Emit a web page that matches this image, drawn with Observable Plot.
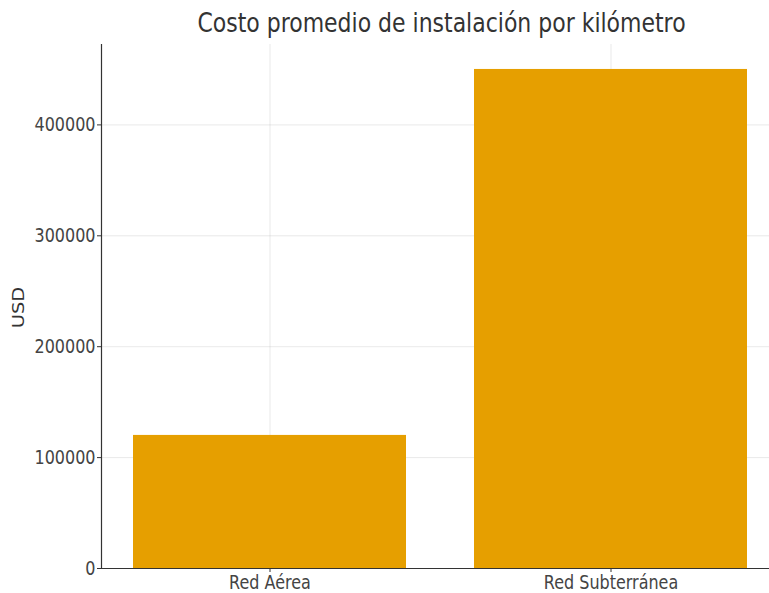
<!DOCTYPE html>
<html>
<head>
<meta charset="utf-8">
<script src="https://cdn.jsdelivr.net/npm/d3@7"></script>
<script src="https://cdn.jsdelivr.net/npm/@observablehq/plot@0.6"></script>
<style>
  html, body { margin: 0; padding: 0; background: white; }
  #chart svg { display: block; }
</style>
</head>
<body>
<div id="chart"></div>
<script>
const title = "Costo promedio de instalación por kilómetro";
const yLabel = "USD";
const categories = ["Red Aérea", "Red Subterránea"];
const values = [120000, 450000];
const yTicks = [0, 100000, 200000, 300000, 400000];

const data = categories.map((c, i) => ({cat: c, val: values[i]}));

const chart = Plot.plot({
  width: 769,
  height: 593,
  marginLeft: 101,
  marginRight: 0,
  marginTop: 44,
  marginBottom: 25,
  style: {fontFamily: "DejaVu Sans", fontSize: "16px", color: "#333", background: "white"},
  x: {type: "band", domain: categories, range: [101, 778], paddingInner: 0.2, paddingOuter: 0.09, align: 0.5},
  y: {domain: [0, 472500]},
  marks: [
    Plot.gridY(yTicks, {stroke: "#b0b0b0", strokeOpacity: 0.35, strokeWidth: 0.8}),
    Plot.gridX(categories, {stroke: "#b0b0b0", strokeOpacity: 0.35, strokeWidth: 0.8}),
    Plot.barY(data, {x: "cat", y: "val", fill: "#e69f00"}),
    Plot.axisY(yTicks, {tickSize: 4, tickPadding: 2, tickFormat: d => String(d), label: null, fontSize: 16, fill: "#444", stroke: "#333"}),
    Plot.axisX({tickSize: 4, tickPadding: 3, label: null, fontSize: 16, fill: "#444", stroke: "#333"}),
    Plot.ruleY([0], {stroke: "#333", strokeWidth: 1.2}),
    Plot.frame({anchor: "left", stroke: "#333", strokeWidth: 1.2}),
    Plot.text([title], {frameAnchor: "top", lineAnchor: "middle", dx: 6, dy: -21, fontSize: 22, fill: "#333"}),
    Plot.text([yLabel], {frameAnchor: "left", textAnchor: "middle", dx: -83, dy: 1, rotate: -90, fontSize: 16, fill: "#333"})
  ]
});
document.getElementById("chart").appendChild(chart);

// The reference's lettering is taller than it is wide: stretch text vertically.
const S = 1.22;
chart.querySelectorAll("text").forEach(t => {
  const tr = t.getAttribute("transform");
  if (tr && /^translate\([^)]*\)/.test(tr)) {
    t.setAttribute("transform", tr.replace(/^(translate\([^)]*\))/, `$1 scale(1,${S})`));
  }
});
</script>
</body>
</html>
